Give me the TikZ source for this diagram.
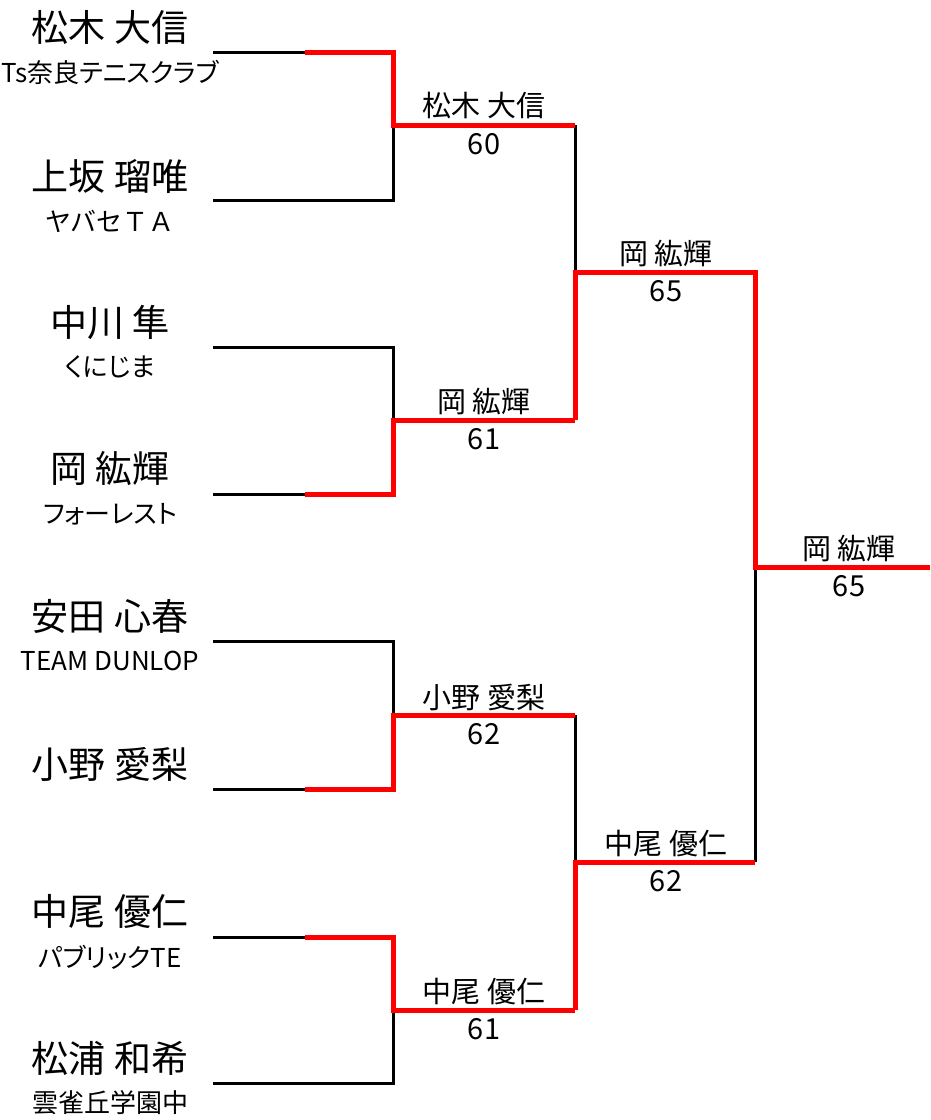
\documentclass[tikz,border=0pt]{standalone}
\usepackage{fontspec}
\setmainfont{Noto Sans CJK JP}
\newfontfamily\clubfont[RawFeature=+palt]{Noto Sans CJK JP}
\tikzset{
  plain/.style={line width=3pt, black},
  won/.style={line width=5pt, red},
  player/.style={font=\fontsize{37}{40}\selectfont, inner sep=0pt},
  club/.style={font=\clubfont\fontsize{26}{30}\selectfont, inner sep=0pt},
  clubwide/.style={font=\fontsize{26}{30}\selectfont, inner sep=0pt},
  winner/.style={font=\fontsize{29}{32}\selectfont, inner sep=0pt},
  score/.style={font=\fontsize{29}{32}\selectfont, inner sep=0pt}
}
\begin{document}
\begin{tikzpicture}[x=1pt, y=-1pt]
    \useasboundingbox (0,0) rectangle (930,1120);

    % Players
    \node[player]   (name1) at (110,27)   {松木 大信};
    \node[club]     (club1) at (110,72)   {Ts奈良テニスクラブ};
    \node[player]   (name2) at (110,176)  {上坂 瑠唯};
    \node[clubwide] (club2) at (110,221)  {ヤバセＴＡ};
    \node[player]   (name3) at (110,322)  {中川 隼};
    \node[club]     (club3) at (110,367)  {くにじま};
    \node[player]   (name4) at (110,469)  {岡 紘輝};
    \node[club]     (club4) at (110,514)  {フォーレスト};
    \node[player]   (name5) at (110,616)  {安田 心春};
    \node[club]     (club5) at (110,661)  {TEAM DUNLOP};
    \node[player]   (name6) at (110,764)  {小野 愛梨};
    \node[player]   (name7) at (110,912)  {中尾 優仁};
    \node[club]     (club7) at (110,957)  {パブリックTE};
    \node[player]   (name8) at (110,1058) {松浦 和希};
    \node[club]     (club8) at (110,1103) {雲雀丘学園中};

    % Line ends
    \coordinate (s1) at (213,52);   \coordinate (c1) at (305,52);
    \coordinate (s2) at (213,200);
    \coordinate (s3) at (213,347);
    \coordinate (s4) at (213,494);  \coordinate (c4) at (305,494);
    \coordinate (s5) at (213,641);
    \coordinate (s6) at (213,789);  \coordinate (c6) at (305,789);
    \coordinate (s7) at (213,937);  \coordinate (c7) at (305,937);
    \coordinate (s8) at (213,1083);

    % Junctions
    \coordinate (r1) at (393,125);  \coordinate (q1) at (575,125);
    \coordinate (r2) at (393,420);  \coordinate (q2) at (575,420);
    \coordinate (r3) at (393,715);  \coordinate (q3) at (575,715);
    \coordinate (r4) at (393,1010); \coordinate (q4) at (575,1010);
    \coordinate (u1) at (575,272);  \coordinate (t1) at (755,272);
    \coordinate (u2) at (575,862);  \coordinate (t2) at (755,862);
    \coordinate (v)  at (755,567);  \coordinate (f)  at (930,567);

    % Black lines
    \draw[plain] (s1) -- (c1);
    \draw[plain] (s2) -| (r1);
    \draw[plain] (s3) -| (r2);
    \draw[plain] (s4) -- (c4);
    \draw[plain] (s5) -| (r3);
    \draw[plain] (s6) -- (c6);
    \draw[plain] (s7) -- (c7);
    \draw[plain] (s8) -| (r4);
    \draw[plain] (q1) -- (u1);
    \draw[plain] (q3) -- (u2);
    \draw[plain] (t2) -- (v);

    % Red lines
    \draw[won] (c1) -| (r1) -- (q1);
    \draw[won] (c4) -| (r2) -- (q2);
    \draw[won] (c6) -| (r3) -- (q3);
    \draw[won] (c7) -| (r4) -- (q4);
    \draw[won] (q2) -- (u1) -- (t1) -- (v) -- (f);
    \draw[won] (q4) -- (u2) -- (t2);

    % Round 1
    \node[winner] (w1) at (484,106)  {松木 大信};
    \node[score]  (p1) at (484,144)  {60};
    \node[winner] (w2) at (484,402)  {岡 紘輝};
    \node[score]  (p2) at (484,439)  {61};
    \node[winner] (w3) at (484,697)  {小野 愛梨};
    \node[score]  (p3) at (484,734)  {62};
    \node[winner] (w4) at (484,992)  {中尾 優仁};
    \node[score]  (p4) at (484,1029) {61};

    % Round 2
    \node[winner] (w5) at (666,254)  {岡 紘輝};
    \node[score]  (p5) at (666,291)  {65};
    \node[winner] (w6) at (666,844)  {中尾 優仁};
    \node[score]  (p6) at (666,881)  {62};

    % Final
    \node[winner] (w7) at (849,549)  {岡 紘輝};
    \node[score]  (p7) at (849,586)  {65};
\end{tikzpicture}
\end{document}
